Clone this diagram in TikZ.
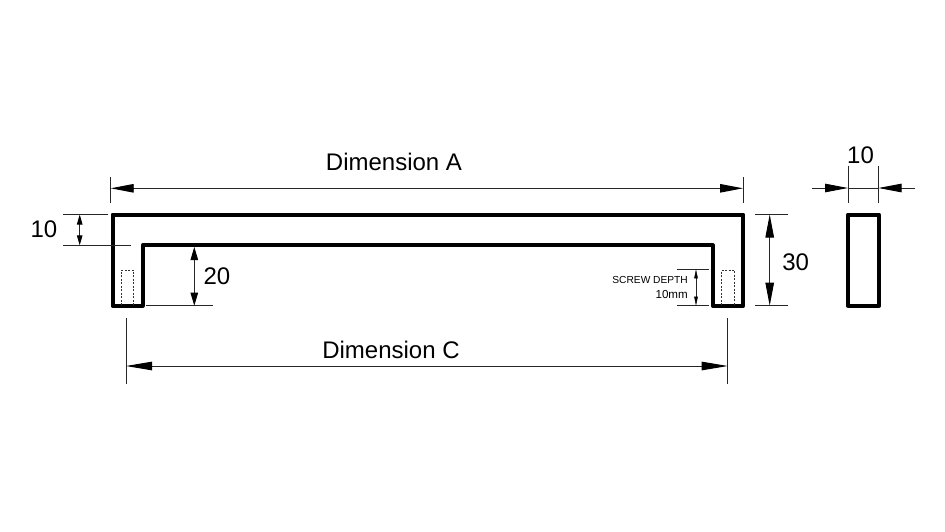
\documentclass[tikz,border=0pt]{standalone}
\usepackage{fontspec}
\setmainfont{Liberation Sans}
\usetikzlibrary{arrows.meta}
\tikzset{
	outline/.style={line width=4pt, line join=round, line cap=round},
	hair/.style={line width=0.9pt, color=black!85},
	hidden/.style={line width=0.6pt, dash pattern=on 2pt off 1.5pt, color=black!80},
	bigdim/.style={hair, {Triangle[length=23pt,width=8.5pt,color=black]}-{Triangle[length=23pt,width=8.5pt,color=black]}},
	longdim/.style={hair, {Triangle[length=26pt,width=8.5pt,color=black]}-{Triangle[length=26pt,width=8.5pt,color=black]}},
	middim/.style={hair, {Triangle[length=13pt,width=7.5pt,color=black]}-{Triangle[length=13pt,width=7.5pt,color=black]}},
	smalldim/.style={hair, {Triangle[length=10pt,width=5.5pt,color=black]}-{Triangle[length=10pt,width=5.5pt,color=black]}},
	tinydim/.style={hair, line width=0.5pt, {Triangle[length=9pt,width=3.5pt,color=black]}-{Triangle[length=9pt,width=3.5pt,color=black]}},
	sidedim/.style={hair, -{Triangle[length=23pt,width=8.5pt,color=black]}},
	dimlabel/.style={font=\fontsize{24}{24}\selectfont, inner sep=0pt},
	notelabel/.style={font=\fontsize{10.2}{10.2}\selectfont, inner sep=0pt, anchor=east}
}
\begin{document}
\begin{tikzpicture}[x=1pt, y=-1pt]
	\useasboundingbox (0,0) rectangle (945,531);
	\coordinate (o1) at (112.5,214.5);
	\coordinate (o2) at (743.3,214.5);
	\coordinate (o3) at (743.3,305.7);
	\coordinate (o4) at (712.7,305.7);
	\coordinate (i2) at (712.7,245.3);
	\coordinate (i1) at (142.7,245.3);
	\coordinate (o5) at (142.7,305.7);
	\coordinate (o6) at (112.5,305.7);
	\draw[outline] (o1) -- (o2) -- (o3) -- (o4) -- (i2) -- (i1) -- (o5) -- (o6) -- cycle;
	\draw[hidden] (121.3,305) -- (121.3,270) -- (133.7,270) -- (133.7,305);
	\draw[hidden] (721.7,305) -- (721.7,270) -- (734.7,270) -- (734.7,305);
	\draw[outline] (848,214.5) rectangle (879,305.7);
	\coordinate (a1) at (110.7,188.3);
	\coordinate (a2) at (743,188.3);
	\draw[hair] (110.7,177) -- (110.7,203);
	\draw[hair] (743,177) -- (743,203);
	\draw[bigdim] (a1) -- (a2);
	\node[dimlabel] (dima) at (394,162) {Dimension A};
	\coordinate (c1) at (126,366);
	\coordinate (c2) at (727.7,366);
	\draw[hair] (126,318) -- (126,384);
	\draw[hair] (727.7,318) -- (727.7,384);
	\draw[longdim] (c1) -- (c2);
	\node[dimlabel] (dimc) at (391,350) {Dimension C};
	\draw[hair] (63,214.5) -- (108,214.5);
	\draw[hair] (63,245.3) -- (130.7,245.3);
	\coordinate (t1) at (79.7,214.5);
	\coordinate (t2) at (79.7,245.3);
	\draw[smalldim] (t1) -- (t2);
	\node[dimlabel] (ten) at (44,229) {10};
	\draw[hair] (146,305.7) -- (212.7,305.7);
	\coordinate (w1) at (194.3,247);
	\coordinate (w2) at (194.3,305.7);
	\draw[middim] (w1) -- (w2);
	\node[dimlabel] (twenty) at (217,276) {20};
	\draw[hair] (755,214.5) -- (787.7,214.5);
	\draw[hair] (755,305.7) -- (787.7,305.7);
	\coordinate (h1) at (769.7,214.5);
	\coordinate (h2) at (769.7,305.7);
	\draw[bigdim] (h1) -- (h2);
	\node[dimlabel] (thirty) at (795.7,262.5) {30};
	\draw[hair, line width=0.5pt] (677,269.3) -- (709,269.3);
	\draw[hair, line width=0.5pt] (677,305.7) -- (709,305.7);
	\coordinate (s1) at (696,269.3);
	\coordinate (s2) at (696,305.7);
	\draw[tinydim] (s1) -- (s2);
	\node[notelabel] (screw) at (688,280) {SCREW DEPTH};
	\node[notelabel, font=\fontsize{11.6}{11.6}\selectfont] (screwmm) at (688,294) {10mm};
	\draw[hair] (848,165.7) -- (848,202.7);
	\draw[hair] (878.5,165.7) -- (878.5,202.7);
	\coordinate (l0) at (811.7,188);
	\coordinate (l1) at (848,188);
	\coordinate (r0) at (915,188);
	\coordinate (r1) at (878.5,188);
	\draw[sidedim] (l0) -- (l1);
	\draw[sidedim] (r0) -- (r1);
	\draw[hair] (l1) -- (r1);
	\node[dimlabel] (tenside) at (860.5,155) {10};
\end{tikzpicture}
\end{document}
